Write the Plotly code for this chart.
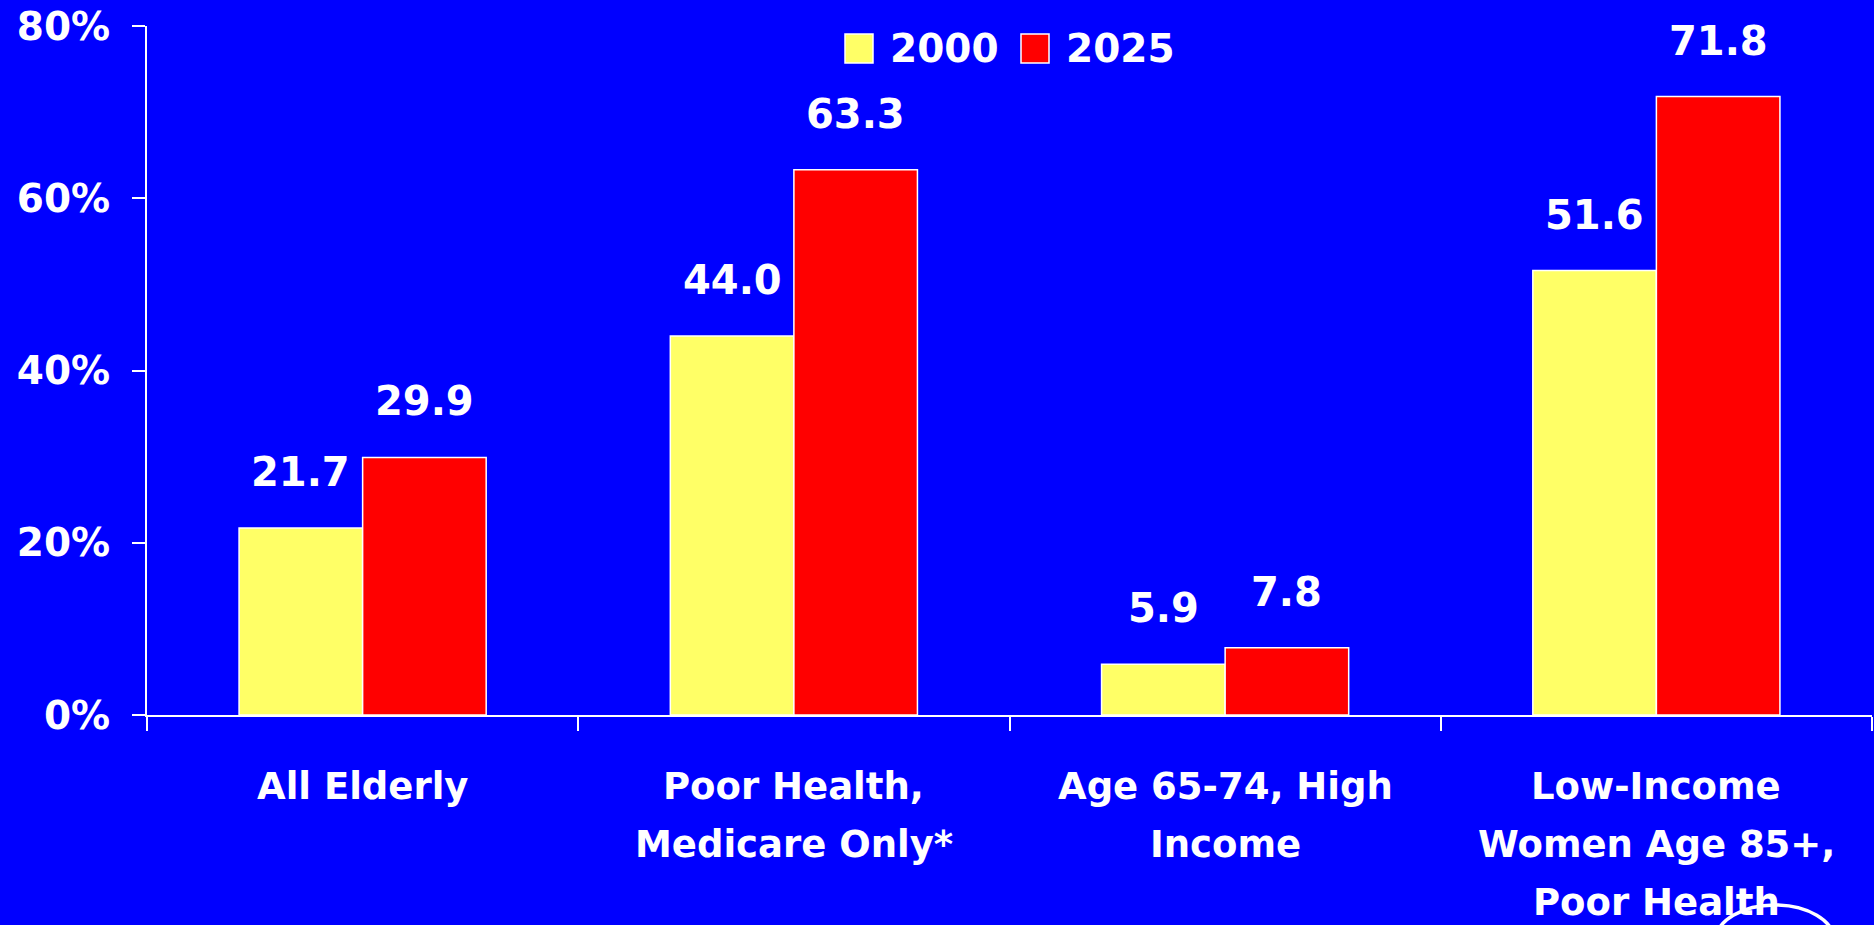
import plotly.graph_objects as go

# ---------------- data ----------------
categories = [
    ["All Elderly"],
    ["Poor Health,", "Medicare Only*"],
    ["Age 65-74, High", "Income"],
    ["Low-Income", "Women Age 85+,", "Poor Health"],
]
series_names = ["2000", "2025"]
values_2000 = [21.7, 44.0, 5.9, 51.6]
values_2025 = [29.9, 63.3, 7.8, 71.8]
y_tick_vals = [0, 20, 40, 60, 80]
y_tick_text = ["0%", "20%", "40%", "60%", "80%"]

# ---------------- style ----------------
W, H = 1874, 925
ML, MR, MT, MB = 147, 2, 26, 210
BG = "#0000FF"
YELLOW = "#FFFF66"
RED = "#FF0000"
WHITE = "#FFFFFF"
FONT = "DejaVu Sans"
BARGAP = 0.427

x_idx = list(range(len(categories)))
half = (1 - BARGAP) / 4.0  # half bar width in data units

fig = go.Figure()
for name, vals, col in [(series_names[0], values_2000, YELLOW), (series_names[1], values_2025, RED)]:
    fig.add_trace(go.Bar(
        x=x_idx, y=vals, name=name,
        marker=dict(color=col, line=dict(color=WHITE, width=1.5)),
        showlegend=False, hoverinfo="skip",
    ))

annotations = []
# value labels
for sign, vals in [(-1, values_2000), (1, values_2025)]:
    for i, v in zip(x_idx, vals):
        annotations.append(dict(
            x=i + sign * half, y=v, xref="x", yref="y",
            text=f"{v:.1f}", showarrow=False,
            yanchor="middle", yshift=56,
            font=dict(family=FONT, size=40, color=WHITE, weight="bold"),
        ))
# category labels (one annotation per line)
for i, lines in zip(x_idx, categories):
    for k, line in enumerate(lines):
        annotations.append(dict(
            x=i, y=0, xref="x", yref="y",
            text=line, showarrow=False,
            yanchor="middle", yshift=-(71 + 58 * k),
            font=dict(family=FONT, size=37, color=WHITE, weight="bold"),
        ))

# manual legend (pixel -> paper helpers)
PW = W - ML - MR
PH = H - MT - MB
def px_x(px):
    return (px - ML) / PW
def px_y(py):
    return (H - MB - py) / PH

shapes = []
legend_items = [(series_names[0], YELLOW, 845), (series_names[1], RED, 1021)]
for name, col, lx in legend_items:
    shapes.append(dict(type="rect", xref="paper", yref="paper",
                       x0=px_x(lx), x1=px_x(lx + 28), y0=px_y(63), y1=px_y(34),
                       fillcolor=col, line=dict(color=WHITE, width=1.5), layer="above"))
    annotations.append(dict(
        x=px_x(lx + 43), y=px_y(49), xref="paper", yref="paper",
        text=name, showarrow=False, xanchor="left", yanchor="middle",
        font=dict(family=FONT, size=39, color=WHITE, weight="bold"),
    ))

# partial logo ellipse at the bottom right edge
shapes.append(dict(type="circle", xref="paper", yref="paper",
                   x0=px_x(1716), x1=px_x(1834), y0=px_y(975), y1=px_y(905),
                   line=dict(color=WHITE, width=3.5), fillcolor="rgba(0,0,0,0)"))

fig.update_layout(
    width=W, height=H, autosize=False,
    margin=dict(l=ML, r=MR, t=MT, b=MB, pad=0),
    paper_bgcolor=BG, plot_bgcolor=BG,
    barmode="group", bargap=BARGAP, bargroupgap=0,
    annotations=annotations, shapes=shapes,
    showlegend=False,
    xaxis=dict(
        range=[-0.5, len(categories) - 0.5],
        tickvals=[i - 0.5 for i in range(len(categories) + 1)],
        ticktext=[""] * (len(categories) + 1),
        ticks="outside", ticklen=14, tickwidth=2, tickcolor=WHITE,
        showline=True, linecolor=WHITE, linewidth=2,
        showgrid=False, zeroline=False, fixedrange=True,
    ),
    yaxis=dict(
        range=[0, 80],
        tickvals=y_tick_vals, ticktext=y_tick_text,
        ticks="outside", ticklen=13, tickwidth=2, tickcolor=WHITE,
        showline=True, linecolor=WHITE, linewidth=2,
        showgrid=False, zeroline=False, fixedrange=True,
        tickfont=dict(family=FONT, size=39, color=WHITE, weight="bold"),
        ticklabelstandoff=14,
    ),
)

fig.write_html("out.html", config={"displayModeBar": False},
               post_script="document.body.style.margin='0';document.body.style.overflow='hidden';")
